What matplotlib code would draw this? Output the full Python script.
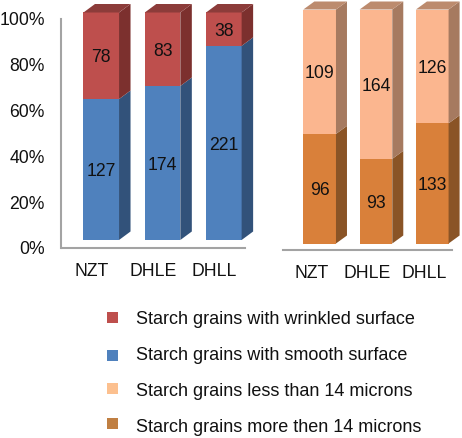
import matplotlib
matplotlib.use('Agg')
import matplotlib.pyplot as plt
from matplotlib.patches import Polygon, Rectangle

plt.rcParams['font.family'] = ['Liberation Sans', 'DejaVu Sans']

categories = ['NZT', 'DHLE', 'DHLL']
wrinkled = [78, 83, 38]
smooth = [127, 174, 221]
less_14 = [109, 164, 126]
more_14 = [96, 93, 133]
pct_ticks = [0, 20, 40, 60, 80, 100]
legend_labels = ['Starch grains with wrinkled surface',
                 'Starch grains with smooth surface',
                 'Starch grains less than 14 microns',
                 'Starch grains more then 14 microns']

W, H = 462, 438
RED = ('#BE4F4D', '#7C302E', '#8C3C3A')
BLUE = ('#4F81BD', '#32527A', '#3A5F8C')
LIGHT = ('#FBB68F', '#A67A60', '#BC8B6E')
ORANGE = ('#D9803A', '#8A5426', '#9C6030')
GREY = '#A3A3A3'
TXT = '#111111'
FS = 12.7

fig = plt.figure(figsize=(W / 100, H / 100), dpi=100)


def px_axes(x0, x1, y_top, y_bottom):
    # axes placed by reference pixel edges
    ax = fig.add_axes([x0 / W, 1 - y_bottom / H, (x1 - x0) / W, (y_bottom - y_top) / H])
    ax.patch.set_alpha(0)
    return ax


def draw_frame(ax, show_y):
    ax.set_xlim(-0.5, 2.5)
    ax.set_ylim(0, 100)
    for s in ['top', 'right']:
        ax.spines[s].set_visible(False)
    ax.spines['bottom'].set_color(GREY)
    ax.spines['bottom'].set_linewidth(1.5)
    ax.set_xticks(range(3), categories, fontsize=FS, color=TXT)
    ax.tick_params(axis='x', length=0, pad=10.5)
    if show_y:
        ax.spines['left'].set_color(GREY)
        ax.spines['left'].set_linewidth(1.5)
        ax.set_yticks(pct_ticks, [f'{t}%' for t in pct_ticks], fontsize=FS, color=TXT)
        ax.tick_params(axis='y', length=0, pad=12)
    else:
        ax.spines['left'].set_visible(False)
        ax.set_yticks([])


def value_label(ax, x, y, val):
    ax.annotate(str(val), (x, y), xytext=(0, -1.5), textcoords='offset points',
                ha='center', va='center', fontsize=FS, color=TXT)


def draw_bars(ax, lower, upper, lower_cols, upper_cols, dx_px, dy_px):
    ax.set_xlim(-0.5, 2.5)
    ax.set_ylim(0, 100)
    ax.axis('off')
    box = ax.get_position()
    dx = dx_px / (box.width * W) * 3
    dy = dy_px / (box.height * H) * 100
    w = 0.58
    for i, (lo, up) in enumerate(zip(lower, upper)):
        split = 100 * lo / (lo + up)
        x1 = i + w / 2
        ax.bar(i, split, w, color=lower_cols[0], linewidth=0)
        ax.bar(i, 100 - split, w, bottom=split, color=upper_cols[0], linewidth=0)
        ax.add_patch(Polygon([(x1, 0), (x1 + dx, dy), (x1 + dx, split + dy), (x1, split)],
                             fc=lower_cols[1], lw=0, clip_on=False))
        ax.add_patch(Polygon([(x1, split), (x1 + dx, split + dy), (x1 + dx, 100 + dy), (x1, 100)],
                             fc=upper_cols[1], lw=0, clip_on=False))
        ax.add_patch(Polygon([(i - w / 2, 100), (i - w / 2 + dx, 100 + dy), (x1 + dx, 100 + dy), (x1, 100)],
                             fc=upper_cols[2], lw=0, clip_on=False))
        value_label(ax, i, split / 2, lo)
        value_label(ax, i, (split + 100) / 2, up)


# left chart: frame sits lower than the bars like the 3D floor
frame_l = px_axes(61.5, 244.5, 19, 248)
draw_frame(frame_l, True)
bars_l = px_axes(70.6, 254.5, 12.5, 240)
draw_bars(bars_l, smooth, wrinkled, BLUE, RED, 11.5, 8.5)

# right chart
frame_r = px_axes(283, 452, 19, 250.5)
draw_frame(frame_r, False)
bars_r = px_axes(291.5, 460.4, 9.5, 243.5)
draw_bars(bars_r, more_14, less_14, ORANGE, LIGHT, 11, 8)

# legend
legend_cols = [RED[0], BLUE[0], '#FCC08F', '#C07F42']
swatch_y = [317, 355, 388, 423]
text_base = [324, 360, 396, 432]
for lab, col, sy, ty in zip(legend_labels, legend_cols, swatch_y, text_base):
    fig.add_artist(Rectangle((107 / W, 1 - (sy + 5.5) / H), 11 / W, 11 / H, fc=col, lw=0,
                             transform=fig.transFigure))
    fig.text(136.5 / W, 1 - ty / H, lab, fontsize=13, color=TXT, ha='left', va='baseline')

fig.savefig('out.png', dpi=100)
